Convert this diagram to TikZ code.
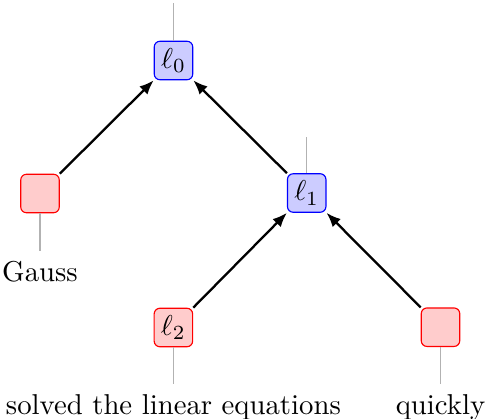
\documentclass[tikz,border=0pt]{standalone}
\usetikzlibrary{arrows.meta}
\begin{document}
\begin{tikzpicture}[x=0.348pt,y=-0.348pt,
  bluebox/.style={draw=blue,fill=blue!20,rounded corners=2pt,minimum size=13.4pt,inner sep=1pt},
  redbox/.style={draw=red,fill=red!20,rounded corners=2pt,minimum size=13.4pt,inner sep=1pt},
  word/.style={anchor=base},
  stem/.style={draw=gray!60,line width=0.4pt},
  edge/.style={draw=black,thick,-{Latex[length=5pt,width=4pt]}}]
\useasboundingbox (0,0) rectangle (486,419);
\node[bluebox] (l0) at (173.5,60.5) {$\ell_0$};
\node[redbox] (g) at (40,193.5) {};
\node[bluebox] (l1) at (306.7,193) {$\ell_1$};
\node[redbox] (l2) at (173.4,327.5) {$\ell_2$};
\node[redbox] (q) at (440.5,327.2) {};
\node[word] (tg) at (40,281) {Gauss};
\node[word] (tl2) at (173.4,414) {solved the linear equations};
\node[word] (tq) at (440.5,414) {quickly};
\coordinate (t0) at (173.5,3);
\coordinate (t1) at (306.7,137);
\draw[stem] (l0.north) -- (t0);
\draw[stem] (l1.north) -- (t1);
\draw[stem] (g.south) -- (tg.north);
\draw[stem] (l2.south) -- (tl2.north);
\draw[stem] (q.south) -- (tq.north);
\draw[edge] (g.north east) -- (l0.south west);
\draw[edge] (l1.north west) -- (l0.south east);
\draw[edge] (l2.north east) -- (l1.south west);
\draw[edge] (q.north west) -- (l1.south east);
\end{tikzpicture}
\end{document}
